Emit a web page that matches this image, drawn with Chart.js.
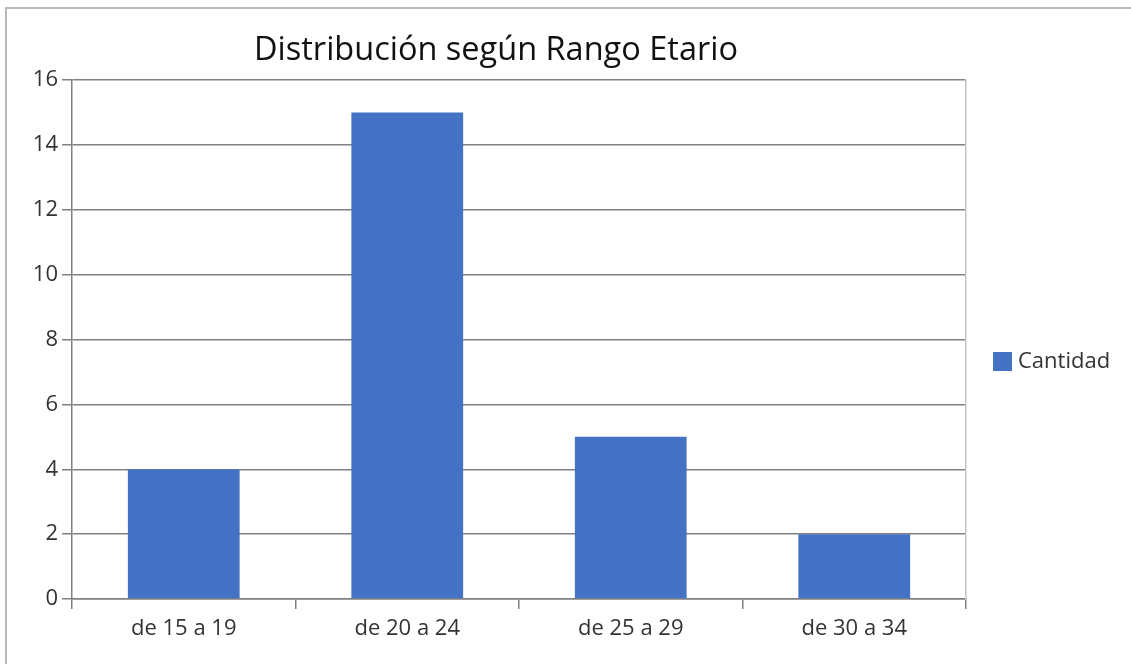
<!DOCTYPE html>
<html>
<head>
<meta charset="utf-8">
<script src="https://cdn.jsdelivr.net/npm/chart.js@4"></script>
<style>
  body { margin:0; background:#fff; }
  #caja { position:absolute; left:0; top:0; width:1131px; height:664px; }
  #marco { position:absolute; left:5px; top:7px; right:0; bottom:0; border-top:2px solid #b8b8b8; border-left:2px solid #b8b8b8; pointer-events:none; }
</style>
</head>
<body>
<div id="caja">
  <canvas id="myChart" width="1131" height="664"></canvas>
  <div id="marco"></div>
</div>
<script>
var titulo = "Distribución según Rango Etario";
var rangos = ["de 15 a 19", "de 20 a 24", "de 25 a 29", "de 30 a 34"];
var cantidad = [4, 15, 5, 2];
var nombreSerie = "Cantidad";
var yMin = 0, yMax = 16, yPaso = 2;

var azul = "#4472c4";
var gris = "#808080";
var fuente = "'Open Sans', sans-serif";

// titulo y leyenda dibujados a mano en su sitio
var textos = {
  id: 'textos',
  afterDraw: function(chart) {
    var ctx = chart.ctx;
    ctx.save();
    ctx.fillStyle = "#111";
    ctx.font = "32.5px " + fuente;
    ctx.textAlign = "center";
    ctx.textBaseline = "middle";
    ctx.fillText(titulo, 496, 51);

    var ds = chart.data.datasets[0];
    ctx.fillStyle = ds.backgroundColor;
    ctx.fillRect(993, 352, 19, 19);
    ctx.fillStyle = "#333";
    ctx.font = "22px " + fuente;
    ctx.textAlign = "left";
    ctx.fillText(ds.label, 1018, 362);
    ctx.restore();
  }
};

var ctx = document.getElementById("myChart").getContext('2d');
var grafico = new Chart(ctx, {
  type: 'bar',
  data: {
    labels: rangos,
    datasets: [{
      label: nombreSerie,
      data: cantidad,
      backgroundColor: azul,
      borderWidth: 0,
      barPercentage: 0.5,
      categoryPercentage: 1
    }]
  },
  options: {
    responsive: false,
    animation: false,
    layout: { padding: { top: 80, left: 0, right: 0, bottom: 0 } },
    plugins: {
      legend: { display: false },
      title: { display: false },
      tooltip: { enabled: false }
    },
    scales: {
      x: {
        offset: true,
        grid: { offset: true, drawOnChartArea: false, color: gris, lineWidth: 1.5, tickLength: 10 },
        border: { color: gris, width: 1.5 },
        ticks: { color: "#333", font: { family: fuente, size: 22 }, padding: 7, maxRotation: 0 },
        afterFit: function(s) { s.height = 65; }
      },
      y: {
        min: yMin,
        max: yMax,
        ticks: { stepSize: yPaso, color: "#333", font: { family: fuente, size: 22 }, padding: 4 },
        grid: { color: gris, lineWidth: 1.5, tickLength: 10 },
        border: { color: gris, width: 1.5 },
        afterFit: function(s) { s.width = 72; }
      },
      y2: {
        position: 'right',
        min: yMin,
        max: yMax,
        ticks: { display: false },
        grid: { drawOnChartArea: false, drawTicks: false },
        border: { color: "#c4c4c4", width: 1.5 },
        afterFit: function(s) { s.width = 165; }
      }
    }
  },
  plugins: [textos]
});
</script>
</body>
</html>
